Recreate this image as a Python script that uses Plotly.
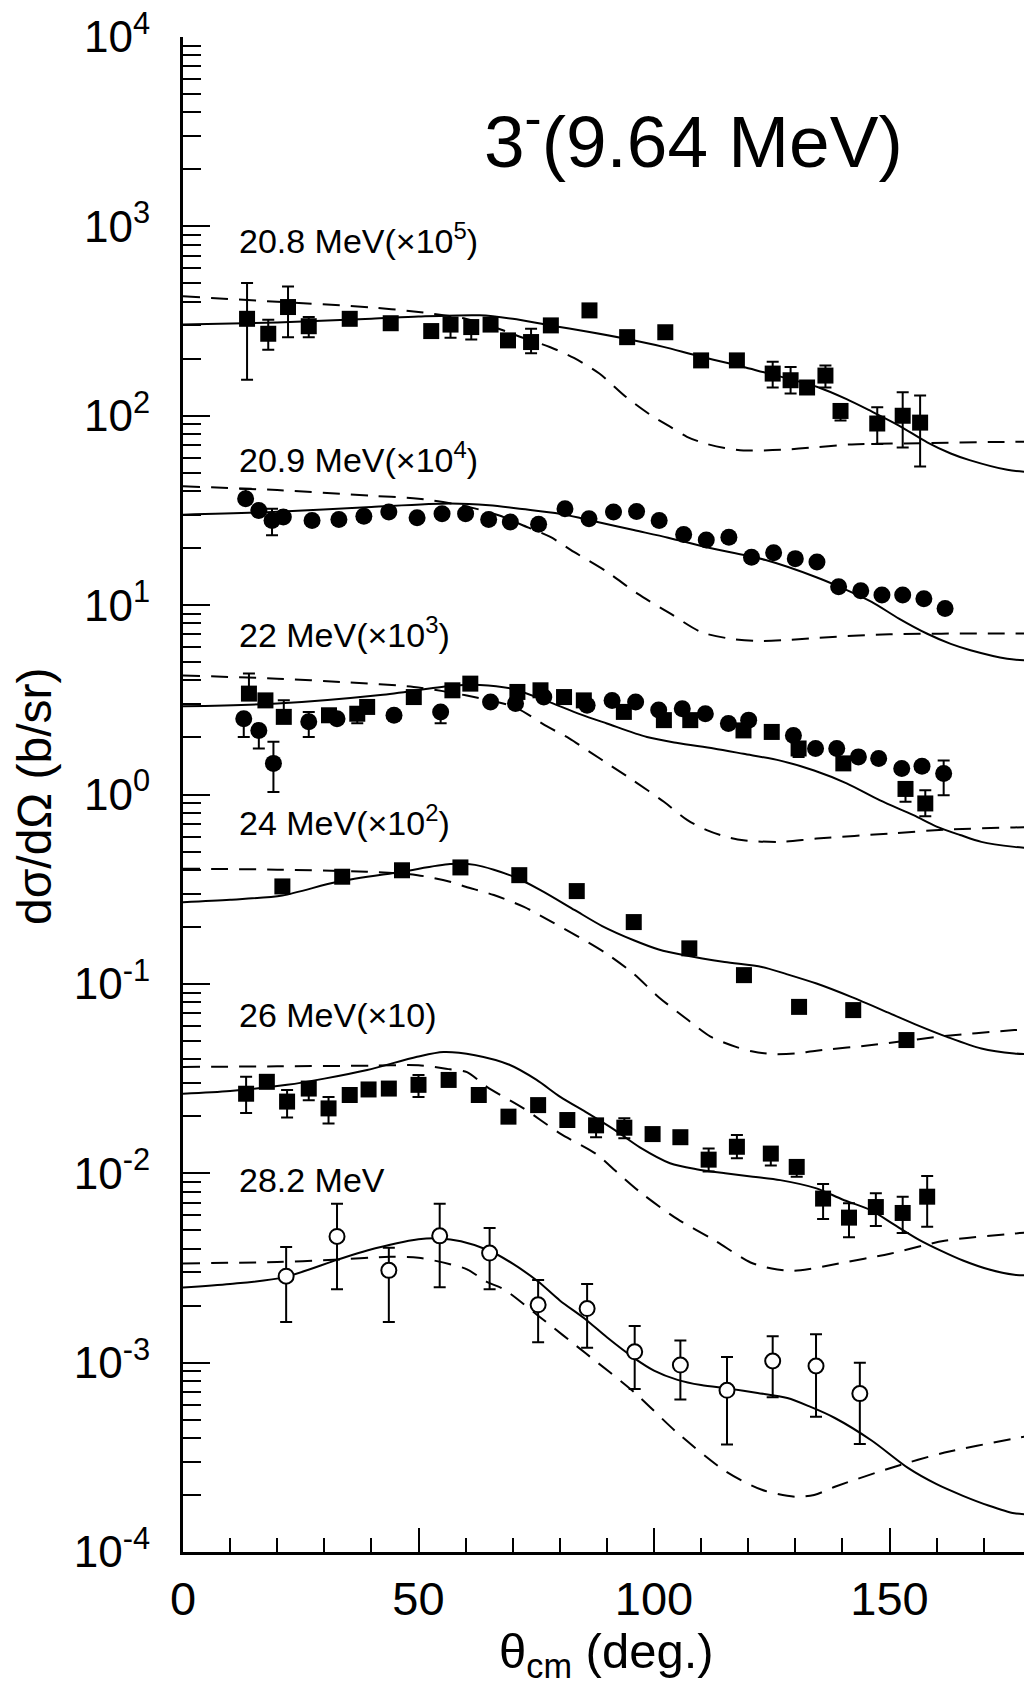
import plotly.graph_objects as go

# ------------------------------------------------------------------ data
# angles in degrees (c.m.), cross sections in b/sr (already scaled as plotted)

# 20.8 MeV (x10^5) - filled squares
th_208 = [13.6, 18.1, 22.3, 26.7, 35.4, 44.1, 52.7, 56.8, 61.2, 65.3, 69.0, 73.9, 78.1,
          86.3, 94.3, 102.4, 110.0, 117.6, 125.2, 129.0, 132.5, 136.4, 139.6, 147.4, 152.8, 156.5]
cs_208 = [325, 271, 375, 297, 325, 308, 280, 303, 294, 303, 250, 245, 300,
          360, 260, 276, 196, 196, 167, 154, 141, 163, 106, 91, 100, 92]
hi_208 = [502, 321, 482, 332, 325, 308, 280, 303, 294, 303, 250, 288, 300,
          360, 260, 276, 196, 196, 193, 181, 141, 184, 106, 111, 133, 128]
lo_208 = [155, 223, 260, 260, 325, 308, 280, 258, 253, 303, 250, 214, 300,
          360, 260, 276, 196, 196, 141, 131, 141, 141, 94.5, 71, 68, 54]

# 20.9 MeV (x10^4) - filled circles
th_209 = [13.3, 16.1, 18.9, 21.3, 27.4, 33.1, 38.4, 43.7, 49.7, 55.0, 60.0, 64.9, 69.5, 75.5,
          81.1, 86.2, 91.4, 96.3, 101.1, 106.3, 111.1, 115.9, 120.7, 125.4, 130.0, 134.6,
          139.2, 143.9, 148.4, 152.8, 157.3, 161.8]
cs_209 = [36.5, 31.6, 28.0, 29.2, 28.0, 28.3, 29.5, 31.0, 28.9, 30.4, 30.4, 28.3, 27.5, 26.7,
          32.3, 28.6, 31.0, 31.2, 28.0, 23.6, 22.1, 22.8, 17.9, 18.9, 17.6, 16.9,
          12.5, 11.9, 11.3, 11.3, 10.8, 9.6]
hi_209 = [41.2, 31.6, 32.3, 29.2, 28.0, 28.3, 29.5, 31.0, 28.9, 30.4, 30.4, 28.3, 27.5, 26.7,
          32.3, 28.6, 31.0, 31.2, 28.0, 23.6, 22.1, 22.8, 17.9, 18.9, 17.6, 16.9,
          12.5, 11.9, 11.3, 11.3, 10.8, 9.6]
lo_209 = [36.5, 31.6, 23.4, 29.2, 28.0, 28.3, 29.5, 31.0, 28.9, 30.4, 30.4, 28.3, 27.5, 26.7,
          32.3, 28.6, 31.0, 31.2, 28.0, 23.6, 22.1, 22.8, 17.9, 18.9, 17.6, 16.9,
          12.5, 11.9, 11.3, 11.3, 10.8, 9.6]

# 22 MeV (x10^3) - filled squares
th_22s = [14.0, 17.5, 21.4, 31.0, 37.0, 39.1, 49.0, 57.2, 61.0, 71.0, 75.9, 80.9, 85.1,
          93.6, 102.1, 107.7, 119.0, 125.0, 130.7, 140.2, 153.4, 157.6]
cs_22s = [3.41, 3.14, 2.57, 2.62, 2.67, 2.90, 3.27, 3.55, 3.85, 3.48, 3.55, 3.27, 3.14,
          2.73, 2.47, 2.47, 2.18, 2.14, 1.75, 1.46, 1.07, 0.897]
hi_22s = [4.35, 3.14, 3.15, 2.62, 2.67, 2.90, 3.27, 3.55, 3.85, 3.48, 3.55, 3.27, 3.14,
          2.73, 2.47, 2.47, 2.18, 2.14, 1.75, 1.46, 1.07, 1.053]
lo_22s = [3.41, 3.14, 2.57, 2.62, 2.38, 2.90, 3.27, 3.55, 3.85, 3.48, 3.55, 3.27, 3.14,
          2.73, 2.47, 2.47, 2.18, 2.14, 1.58, 1.46, 0.915, 0.767]

# 22 MeV (x10^3) - filled circles
th_22c = [12.9, 16.1, 19.2, 26.7, 32.7, 44.8, 54.7, 65.3, 70.6, 76.6, 85.8, 91.1, 96.1,
          101.0, 106.0, 110.9, 115.8, 120.1, 129.6, 134.3, 138.8, 143.4, 147.7, 152.6, 156.9, 161.5]
cs_22c = [2.51, 2.18, 1.46, 2.42, 2.51, 2.62, 2.73, 3.08, 3.02, 3.27, 2.96, 3.14, 3.08,
          2.79, 2.84, 2.67, 2.37, 2.47, 2.05, 1.75, 1.75, 1.58, 1.55, 1.37, 1.41, 1.29]
hi_22c = [2.51, 2.18, 1.90, 2.73, 2.51, 2.62, 2.73, 3.08, 3.02, 3.27, 2.96, 3.14, 3.08,
          2.79, 2.84, 2.67, 2.37, 2.47, 2.05, 1.75, 1.75, 1.58, 1.55, 1.37, 1.41, 1.51]
lo_22c = [2.01, 1.75, 1.03, 2.01, 2.51, 2.62, 2.38, 3.08, 3.02, 3.27, 2.96, 3.14, 3.08,
          2.79, 2.84, 2.67, 2.37, 2.47, 2.05, 1.75, 1.75, 1.58, 1.55, 1.37, 1.41, 0.991]

# 24 MeV (x10^2) - filled squares
th_24 = [21.1, 33.8, 46.5, 58.9, 71.4, 83.6, 95.7, 107.5, 119.1, 130.8, 142.3, 153.6]
cs_24 = [0.327, 0.368, 0.398, 0.412, 0.375, 0.309, 0.212, 0.154, 0.1112, 0.0756, 0.0727, 0.0505]
hi_24 = [0.327, 0.368, 0.398, 0.412, 0.375, 0.309, 0.212, 0.154, 0.1112, 0.0756, 0.0727, 0.0546]
lo_24 = [0.327, 0.368, 0.398, 0.412, 0.375, 0.309, 0.212, 0.154, 0.1112, 0.0756, 0.0727, 0.0468]

# 26 MeV (x10) - filled squares
th_26 = [13.4, 17.8, 22.1, 26.7, 30.9, 35.4, 39.4, 43.7, 50.0, 56.4, 62.8, 69.1, 75.4, 81.6,
         87.7, 93.7, 99.7, 105.6, 111.6, 117.6, 124.8, 130.3, 135.9, 141.4, 147.1, 152.8, 158.0]
cs_26 = [0.0263, 0.0304, 0.0239, 0.0280, 0.0220, 0.0259, 0.0277, 0.0280, 0.0293, 0.0311,
         0.0259, 0.0199, 0.0229, 0.0191, 0.0179, 0.0174, 0.0161, 0.0155, 0.0118, 0.0138,
         0.0127, 0.0108, 0.00735, 0.00583, 0.00663, 0.00617, 0.00752]
hi_26 = [0.0323, 0.0304, 0.0275, 0.0280, 0.0253, 0.0259, 0.0277, 0.0280, 0.0330, 0.0311,
         0.0259, 0.0199, 0.0229, 0.0191, 0.0179, 0.0195, 0.0161, 0.0155, 0.0135, 0.0159,
         0.0127, 0.0108, 0.00878, 0.00694, 0.00784, 0.00752, 0.00967]
lo_26 = [0.0208, 0.0304, 0.0197, 0.0243, 0.0183, 0.0259, 0.0277, 0.0280, 0.0253, 0.0311,
         0.0259, 0.0199, 0.0229, 0.0191, 0.0155, 0.0153, 0.0161, 0.0155, 0.0102, 0.0120,
         0.0110, 0.00958, 0.00574, 0.00459, 0.00526, 0.00484, 0.00522]

# 28.2 MeV - open circles
th_282 = [21.9, 32.7, 43.7, 54.5, 65.1, 75.4, 85.8, 95.9, 105.6, 115.5, 125.2, 134.4, 143.7]
cs_282 = [0.00286, 0.00464, 0.00307, 0.00467, 0.00379, 0.00202, 0.00193, 0.00114,
          0.000971, 0.000714, 0.00102, 0.000960, 0.000686]
hi_282 = [0.00408, 0.00690, 0.00404, 0.00690, 0.00514, 0.00273, 0.00260, 0.00156,
          0.00131, 0.00107, 0.00138, 0.00141, 0.00100]
lo_282 = [0.00164, 0.00244, 0.00164, 0.00250, 0.00244, 0.00128, 0.00120, 0.000725,
          0.000638, 0.000369, 0.000657, 0.000518, 0.000372]

# ---- calculations: solid and dashed curves
sol_208_th = [0, 20, 40, 50, 63, 70, 78, 86, 94, 102, 109, 122, 135, 141, 146, 152, 158, 163, 167, 175, 180]
sol_208_cs = [303, 311, 325, 334, 339, 325, 300, 278, 255, 231, 208, 173, 141, 122, 106, 88.8, 72.4, 63.2, 58.3, 51.8, 50.3]
das_208_th = [0, 20, 40, 50, 60, 67, 72, 78, 83, 88.4, 94, 99, 103.5, 107, 111, 115, 119, 127, 134.6, 142, 158, 173, 180]
das_208_cs = [427, 400, 373, 353, 325, 288, 259, 230, 202, 167, 126, 102, 87.3, 77.4, 71.2, 67.6, 65.6, 66.1, 68.3, 70.6, 71.7, 72.7, 72.9]

sol_209_th = [0, 20, 40, 56.8, 65, 72, 80, 88, 95.7, 103, 111.2, 123.7, 134.6, 140, 146.2, 152, 157.9, 163, 167.2, 175, 180]
sol_209_cs = [30.0, 31.1, 33.0, 34.4, 33.7, 32.2, 30.4, 27.5, 24.9, 22.7, 20.2, 17.3, 14.0, 12.3, 10.4, 8.49, 7.08, 6.24, 5.78, 5.21, 5.09]
das_209_th = [0, 20, 40, 50, 60, 67, 72, 78, 83, 90, 96.5, 103.5, 110, 116, 122, 128, 135, 150, 173, 180]
das_209_cs = [42.4, 40.5, 37.8, 36.5, 33.3, 29.8, 26.5, 22.9, 19.1, 15.0, 11.5, 9.01, 7.21, 6.66, 6.47, 6.54, 6.73, 7.02, 7.08, 7.08]

sol_22_th = [0, 20, 41.9, 56.7, 63, 70, 77, 84.4, 90, 98.5, 105, 112.7, 119, 126.8, 134, 140.9, 148, 155.1, 160, 165, 169.5, 176.5, 180]
sol_22_cs = [2.92, 3.02, 3.35, 3.74, 3.79, 3.61, 3.13, 2.65, 2.37, 2.01, 1.87, 1.75, 1.64, 1.51, 1.34, 1.146, 0.931, 0.778, 0.677, 0.611, 0.562, 0.529, 0.521]
das_22_th = [0, 20, 35, 49, 60, 70.3, 77.4, 82, 86.5, 91, 95.5, 102.1, 107.1, 111.2, 115, 119, 126.8, 134.5, 150.1, 161.7, 176.5, 180]
das_22_cs = [4.25, 4.09, 3.91, 3.70, 3.34, 2.90, 2.28, 1.98, 1.67, 1.41, 1.19, 0.915, 0.732, 0.648, 0.601, 0.573, 0.562, 0.585, 0.622, 0.652, 0.670, 0.672]

sol_24_th = [0, 10, 21.1, 32.8, 46.5, 56.7, 62, 70, 76, 83.2, 89, 95.7, 101, 106.5, 115, 122.9, 128, 134.5, 142, 150.1, 156, 162.2, 169.5, 176.5, 180]
sol_24_cs = [0.270, 0.278, 0.293, 0.346, 0.391, 0.429, 0.425, 0.370, 0.312, 0.245, 0.202, 0.170, 0.152, 0.1417, 0.1306, 0.1229, 0.1129, 0.1004, 0.0851, 0.0698, 0.0604, 0.0525, 0.0456, 0.0429, 0.0425]
das_24_th = [0, 20, 39, 49.8, 56.7, 60, 66, 72.4, 78, 84, 90, 95.7, 101, 107.3, 112, 117.4, 121, 125.2, 130, 134.5, 146.2, 161.7, 176.5, 180]
das_24_cs = [0.406, 0.401, 0.391, 0.375, 0.346, 0.326, 0.2945, 0.255, 0.2144, 0.177, 0.1439, 0.1129, 0.0851, 0.0642, 0.0527, 0.0465, 0.0439, 0.0426, 0.0429, 0.0444, 0.0475, 0.0530, 0.0570, 0.0578]

sol_26_th = [0, 10, 22.1, 30, 39.1, 49.7, 55.3, 62, 69.3, 75, 80.1, 86, 91.7, 97, 103.4, 109, 115.1, 121, 126.8, 134.5, 140, 146.2, 151, 156.3, 161, 165.6, 171, 176.5, 180]
sol_26_cs = [0.0263, 0.0272, 0.0293, 0.0316, 0.0351, 0.0412, 0.0437, 0.0420, 0.0374, 0.0312, 0.0253, 0.0207, 0.0169, 0.0137, 0.0113, 0.0105, 0.00999, 0.00959, 0.00920, 0.00832, 0.00727, 0.00635, 0.00535, 0.00445, 0.00389, 0.00346, 0.00311, 0.00291, 0.00289]
das_26_th = [0, 20, 40, 50, 56.7, 60.3, 64.5, 72.3, 80.1, 87.8, 92, 97.2, 105, 112.7, 120.5, 125, 129.1, 133, 138.4, 150.1, 161.7, 176.5, 180]
das_26_cs = [0.0364, 0.0367, 0.0370, 0.0372, 0.0354, 0.0342, 0.0286, 0.0220, 0.0162, 0.0126, 0.0102, 0.00790, 0.00572, 0.00445, 0.00338, 0.00314, 0.00305, 0.00312, 0.00331, 0.00376, 0.00440, 0.00480, 0.00487]

sol_282_th = [0, 10, 21.4, 32.7, 39.1, 50, 54.4, 59, 65, 70, 75.4, 80, 85.5, 90, 95.7, 100, 105, 110, 115.9, 122, 128.3, 133, 138.4, 146.2, 154, 160, 165.6, 171, 176.5, 180]
sol_282_cs = [0.00249, 0.00260, 0.00282, 0.00349, 0.00391, 0.00448, 0.00453, 0.00438, 0.00391, 0.00333, 0.00268, 0.00213, 0.00169, 0.00136, 0.00106, 0.000908, 0.000811, 0.000761, 0.000729, 0.000692, 0.000650, 0.000587, 0.000510, 0.000388, 0.000277, 0.000228, 0.000198, 0.000176, 0.000160, 0.000158]
das_282_th = [0, 20, 32, 44, 50, 56.7, 60.3, 64.5, 68, 75.4, 85.5, 95.7, 105, 115.1, 122.9, 129.9, 134, 138.4, 150.1, 161.7, 176.5, 180]
das_282_cs = [0.00334, 0.00340, 0.00349, 0.00362, 0.00358, 0.00331, 0.00311, 0.00267, 0.00245, 0.00177, 0.00112, 0.000701, 0.000425, 0.000268, 0.000213, 0.000196, 0.000200, 0.000221, 0.000277, 0.000335, 0.000397, 0.000412]

series_labels = ["20.8 MeV(×10<sup>5</sup>)", "20.9 MeV(×10<sup>4</sup>)", "22 MeV(×10<sup>3</sup>)",
                 "24 MeV(×10<sup>2</sup>)", "26 MeV(×10)", "28.2 MeV"]
title_text = "3<sup>-</sup>(9.64 MeV)"
x_title = "θ<sub>cm</sub> (deg.)"
y_title = "dσ/dΩ (b/sr)"
y_tick_vals = [1e-4, 1e-3, 1e-2, 1e-1, 1e0, 1e1, 1e2, 1e3, 1e4]
y_tick_text = ["10<sup>-4</sup>", "10<sup>-3</sup>", "10<sup>-2</sup>", "10<sup>-1</sup>", "10<sup>0</sup>",
               "10<sup>1</sup>", "10<sup>2</sup>", "10<sup>3</sup>", "10<sup>4</sup>"]
x_tick_vals = [0, 50, 100, 150]

# ------------------------------------------------------------------ layout geometry (pixels)
W, H = 1024, 1692
L, R, T, B = 183, 1024, 37, 1552
PX_PER_DEG = 4.71
X_MAX = (R - L) / PX_PER_DEG

FONT = "Liberation Sans, Arial, Helvetica, sans-serif"


def px(xp):
    return (xp - L) / (R - L)


def py(yp):
    return (B - yp) / (B - T)


def err(y, hi, lo):
    return dict(type="data", symmetric=False,
                array=[h - v for h, v in zip(hi, y)],
                arrayminus=[v - l for v, l in zip(y, lo)],
                color="black", thickness=2, width=6)


fig = go.Figure()

curve_sets = [
    (sol_208_th, sol_208_cs, das_208_th, das_208_cs),
    (sol_209_th, sol_209_cs, das_209_th, das_209_cs),
    (sol_22_th, sol_22_cs, das_22_th, das_22_cs),
    (sol_24_th, sol_24_cs, das_24_th, das_24_cs),
    (sol_26_th, sol_26_cs, das_26_th, das_26_cs),
    (sol_282_th, sol_282_cs, das_282_th, das_282_cs),
]
for st, sc, dt, dc in curve_sets:
    fig.add_trace(go.Scatter(x=st, y=sc, mode="lines",
                             line=dict(color="black", width=2, shape="spline", smoothing=0.8),
                             showlegend=False, hoverinfo="skip"))
    fig.add_trace(go.Scatter(x=dt, y=dc, mode="lines",
                             line=dict(color="black", width=2, dash="17px,11px", shape="spline", smoothing=0.8),
                             showlegend=False, hoverinfo="skip"))

sq = dict(symbol="square", size=16, color="black")
ci = dict(symbol="circle", size=17, color="black")
oc = dict(symbol="circle", size=15, color="white", line=dict(color="black", width=2))

points = [
    (th_208, cs_208, hi_208, lo_208, sq),
    (th_209, cs_209, hi_209, lo_209, ci),
    (th_22s, cs_22s, hi_22s, lo_22s, sq),
    (th_22c, cs_22c, hi_22c, lo_22c, ci),
    (th_24, cs_24, hi_24, lo_24, sq),
    (th_26, cs_26, hi_26, lo_26, sq),
    (th_282, cs_282, hi_282, lo_282, oc),
]
for th, cs, hi, lo, mk in points:
    fig.add_trace(go.Scatter(x=th, y=cs, mode="markers", marker=mk, error_y=err(cs, hi, lo),
                             showlegend=False, hoverinfo="skip"))

y_minor = [m * 10.0 ** e for e in range(-4, 4) for m in range(2, 10)]

fig.update_layout(
    width=W, height=H,
    margin=dict(l=L, r=W - R, t=T, b=H - B, pad=0),
    paper_bgcolor="white", plot_bgcolor="white",
    font=dict(family=FONT, color="black"),
    showlegend=False,
    xaxis=dict(range=[0, X_MAX], showgrid=False, zeroline=False, showline=True, linecolor="black", linewidth=3,
               tickmode="array", tickvals=x_tick_vals, ticks="inside", ticklen=24, tickwidth=2, tickcolor="black",
               tickfont=dict(size=47, family=FONT), ticklabelstandoff=4,
               minor=dict(dtick=10, tick0=0, ticks="inside", ticklen=14, tickwidth=2, tickcolor="black", showgrid=False)),
    xaxis2=dict(range=[0, X_MAX], overlaying="x", anchor="y", side="top", showgrid=False, zeroline=False,
                showline=True, linecolor="black", linewidth=3, showticklabels=False,
                tickmode="array", tickvals=x_tick_vals, ticks="inside", ticklen=24, tickwidth=2, tickcolor="black",
                minor=dict(dtick=10, tick0=0, ticks="inside", ticklen=16, tickwidth=2, tickcolor="black", showgrid=False)),
    yaxis=dict(type="log", range=[-4, 4], showgrid=False, zeroline=False, showline=True, linecolor="black", linewidth=3,
               tickmode="array", tickvals=y_tick_vals, ticktext=y_tick_text, ticks="inside", ticklen=27, tickwidth=2,
               tickcolor="black", tickfont=dict(size=44, family=FONT), ticklabelstandoff=21,
               minor=dict(tickmode="array", tickvals=y_minor, ticks="inside", ticklen=18, tickwidth=2,
                          tickcolor="black", showgrid=False)),
    yaxis2=dict(type="log", range=[-4, 4], overlaying="y", anchor="x", side="right", showgrid=False, zeroline=False,
                showline=False, showticklabels=False,
                tickmode="array", tickvals=y_tick_vals, ticks="inside", ticklen=21, tickwidth=2, tickcolor="black",
                minor=dict(tickmode="array", tickvals=y_minor, ticks="inside", ticklen=13, tickwidth=2,
                           tickcolor="black", showgrid=False)),
)

annotations = []
# panel title
annotations.append(dict(text=title_text, x=px(482), y=py(135.5), xref="paper", yref="paper",
                        xanchor="left", yanchor="middle", showarrow=False, font=dict(size=73, family=FONT)))
# series labels
label_y = [239, 457.4, 632.4, 820.7, 1014.9, 1179.7]
for txt, yl in zip(series_labels, label_y):
    annotations.append(dict(text=txt, x=px(237), y=py(yl), xref="paper", yref="paper",
                            xanchor="left", yanchor="middle", showarrow=False, font=dict(size=34, family=FONT)))
# axis titles
annotations.append(dict(text=x_title, x=px(606), y=py(1655), xref="paper", yref="paper",
                        xanchor="center", yanchor="middle", showarrow=False, font=dict(size=49, family=FONT)))
annotations.append(dict(text=y_title, x=px(34), y=py(796), xref="paper", yref="paper", textangle=-90,
                        xanchor="center", yanchor="middle", showarrow=False, font=dict(size=48, family=FONT)))
fig.update_layout(annotations=annotations)

fig.write_html("out.html", config={"displayModeBar": False})
